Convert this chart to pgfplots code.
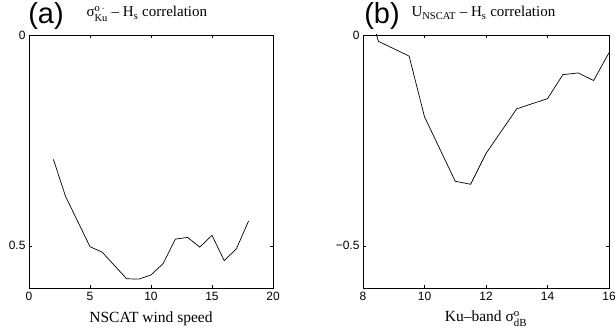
\documentclass[border=0pt]{standalone}
\usepackage{fontspec}
\setmainfont{Liberation Serif}
\newfontfamily\hel{Liberation Sans}
\usepackage{amsmath}
\usepackage{pgfplots}
\pgfplotsset{compat=1.18}
\pgfplotstableread{
x y
2 0.295
3 0.383
5 0.502
6 0.515
8 0.578
9 0.579
10 0.569
11 0.542
12 0.484
13 0.480
14 0.503
15 0.475
16 0.535
17 0.507
18 0.441
}\tablea
\pgfplotstableread{
x y
8.40 0.010
8.50 -0.015
9.50 -0.050
10.0 -0.194
11.0 -0.347
11.5 -0.354
12.0 -0.281
13.0 -0.175
14.0 -0.151
14.5 -0.094
15.0 -0.090
15.5 -0.108
16.0 -0.042
}\tableb
\pgfplotsset{
  mystyle/.style={
    scale only axis, anchor=south west,
    height=253pt,
    tick align=inside, major tick length=3pt,
    tick label style={font=\hel\fontsize{12}{13}\selectfont},
    xticklabel style={yshift=-1pt},
    xlabel style={font=\fontsize{15.5}{16}\selectfont, at={(axis description cs:0.5,0)}, anchor=base, yshift=-34pt},
    axis line style={line width=0.7pt},
    tick style={line width=0.5pt, black},
    clip=true,
  }
}
\begin{document}
\begin{tikzpicture}[x=1pt,y=1pt]
\useasboundingbox (0,0) rectangle (615,331);
\begin{axis}[mystyle, at={(29pt,43pt)}, width=244pt,
  xmin=0, xmax=20, ymin=0, ymax=0.6, y dir=reverse,
  xtick={0,5,10,15,20}, xticklabels={0,5,10,15,20},
  ytick={0,0.5}, yticklabels={0,0.5},
  xlabel={NSCAT wind speed}]
\addplot[black, line width=0.7pt, mark=none] table[x=x,y=y]{\tablea};
\end{axis}
\begin{axis}[mystyle, at={(363pt,43pt)}, width=246pt,
  xmin=8, xmax=16, ymin=-0.6, ymax=0,
  xtick={8,10,12,14,16}, xticklabels={8,10,12,14,16},
  ytick={-0.5,0}, yticklabels={−0.5,0},
  xlabel={Ku\textendash band $\text{σ}^{\text{o}}_{\text{dB}}$}]
\addplot[black, line width=0.7pt, mark=none] table[x=x,y=y]{\tableb};
\end{axis}
\node[font=\hel\fontsize{29}{30}\selectfont, anchor=center] at (46,315) {(a)};
\node[font=\fontsize{15}{16}\selectfont, anchor=base west] at (83,314) {$\text{σ}^{\text{o}\,\cdot}_{\text{Ku}}$ \textendash\ H$_{\text{s}}$ correlation};
\node[font=\hel\fontsize{29}{30}\selectfont, anchor=center] at (382,315) {(b)};
\node[font=\fontsize{15}{16}\selectfont, anchor=base west] at (408,314) {U$_{\text{NSCAT}}$ \textendash\ H$_{\text{s}}$ correlation};
\end{tikzpicture}
\end{document}
